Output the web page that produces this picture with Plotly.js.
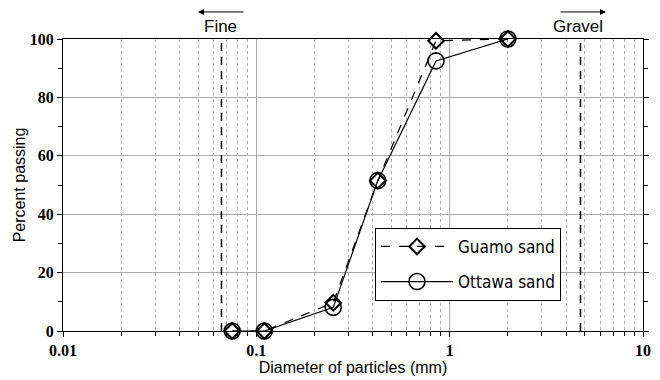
<!DOCTYPE html>
<html>
<head>
<meta charset="utf-8">
<script src="https://cdn.plot.ly/plotly-3.0.1.min.js"></script>
<style>html,body{margin:0;padding:0;background:#fff;}#chart{width:660px;height:380px;}</style>
</head>
<body>
<div id="chart"></div>
<script>
// Data
const diameters = [0.075, 0.11, 0.25, 0.425, 0.85, 2.0];
const guamoPassing = [0, 0, 9.7, 51.5, 99.4, 100];
const ottawaPassing = [0, 0, 8.1, 51.5, 92.5, 100];
const seriesNames = ['Guamo sand', 'Ottawa sand'];
const fineLimit = 0.066;
const gravelLimit = 4.75;
const xTickVals = [0.01, 0.1, 1, 10];
const xTickText = ['0.01', '0.1', '1', '10'];
const xMinorVals = [0.02, 0.03, 0.04, 0.05, 0.06, 0.07, 0.08, 0.09,
                    0.2, 0.3, 0.4, 0.5, 0.6, 0.7, 0.8, 0.9,
                    2, 3, 4, 5, 6, 7, 8, 9];
const yTickVals = [0, 20, 40, 60, 80, 100];
const yMinorVals = [10, 30, 50, 70, 90];

const tickFont = {family: 'Liberation Serif, Times New Roman, serif', size: 16, color: '#000', weight: 'bold'};
const titleFont = {family: 'Liberation Sans, Arial, sans-serif', size: 16, color: '#000'};

const traces = [
  {
    x: diameters, y: guamoPassing, name: seriesNames[0], type: 'scatter', mode: 'lines+markers',
    legendgroup: 'g',
    line: {color: '#000', width: 1.2, dash: 'dash'},
    marker: {symbol: 'diamond-open', size: 12, color: '#000', line: {color: '#000', width: 2}},
    cliponaxis: false
  },
  {
    x: diameters, y: ottawaPassing, name: seriesNames[1], type: 'scatter', mode: 'lines+markers',
    legendgroup: 'o',
    line: {color: '#000', width: 1.2},
    marker: {symbol: 'circle-open', size: 16, color: '#000', line: {color: '#000', width: 1.6}},
    cliponaxis: false
  }
];

const layout = {
  width: 660, height: 380,
  margin: {l: 63, r: 17, t: 39, b: 49},
  paper_bgcolor: '#fff', plot_bgcolor: '#fff',
  showlegend: true,
  legend: {
    x: (375 - 63) / 580, y: (331 - 228) / 291.7, xanchor: 'left', yanchor: 'top',
    bgcolor: '#fff', bordercolor: '#000', borderwidth: 1,
    font: {family: 'DejaVu Sans Condensed, DejaVu Sans, sans-serif', size: 17, color: '#000'},
    itemwidth: 72, traceorder: 'grouped', tracegroupgap: 10,
    entrywidth: 180
  },
  xaxis: {
    type: 'log', range: [-2, 1],
    tickvals: xTickVals, ticktext: xTickText,
    ticks: 'outside', ticklen: 5, tickcolor: '#000',
    tickfont: tickFont,
    showline: true, linecolor: '#000', linewidth: 1, mirror: true,
    showgrid: true, gridcolor: '#a8a8a8', gridwidth: 1,
    zeroline: false,
    minor: {tickvals: xMinorVals, ticks: 'outside', ticklen: 4, tickcolor: '#000', showgrid: true, gridcolor: '#999', griddash: '3px,3px', gridwidth: 0.8},
    title: {text: 'Diameter of particles (mm)', font: titleFont, standoff: 0}
  },
  yaxis: {
    range: [0, 100],
    tickvals: yTickVals,
    ticks: 'outside', ticklen: 5, tickcolor: '#000',
    tickfont: tickFont,
    showline: true, linecolor: '#000', linewidth: 1, mirror: 'ticks',
    showgrid: true, gridcolor: '#a8a8a8', gridwidth: 1.2,
    zeroline: false,
    minor: {tickvals: yMinorVals, ticks: 'outside', ticklen: 4, tickcolor: '#000', showgrid: false},
    title: {text: 'Percent passing', font: titleFont, standoff: 0}
  },
  shapes: [
    {type: 'line', xref: 'x', yref: 'paper', x0: fineLimit, x1: fineLimit, y0: 0, y1: 1,
     line: {color: '#000', width: 1.5, dash: '8px,6px'}},
    {type: 'line', xref: 'x', yref: 'paper', x0: gravelLimit, x1: gravelLimit, y0: 0, y1: 1,
     line: {color: '#000', width: 1.5, dash: '8px,6px'}}
  ],
  annotations: [
    {xref: 'paper', yref: 'paper', x: (220.5 - 63) / 580, y: (331 - 27) / 291.7, text: 'Fine',
     xanchor: 'center', yanchor: 'middle',
     showarrow: false, font: {family: 'Liberation Sans, Arial, sans-serif', size: 17, color: '#000'}},
    {xref: 'paper', yref: 'paper', x: (198 - 63) / 580, y: (331 - 12.3) / 291.7, text: '',
     showarrow: true, ax: 47, ay: 0, arrowhead: 2, arrowsize: 1.2, arrowwidth: 1, arrowcolor: '#000'},
    {xref: 'paper', yref: 'paper', x: (578 - 63) / 580, y: (331 - 27) / 291.7, text: 'Gravel',
     xanchor: 'center', yanchor: 'middle',
     showarrow: false, font: {family: 'Liberation Sans, Arial, sans-serif', size: 17, color: '#000'}},
    {xref: 'paper', yref: 'paper', x: (606 - 63) / 580, y: (331 - 12.3) / 291.7, text: '',
     showarrow: true, ax: -47, ay: 0, arrowhead: 2, arrowsize: 1.2, arrowwidth: 1, arrowcolor: '#000'}
  ]
};

Plotly.newPlot('chart', traces, layout, {displayModeBar: false, staticPlot: true});
</script>
</body>
</html>
